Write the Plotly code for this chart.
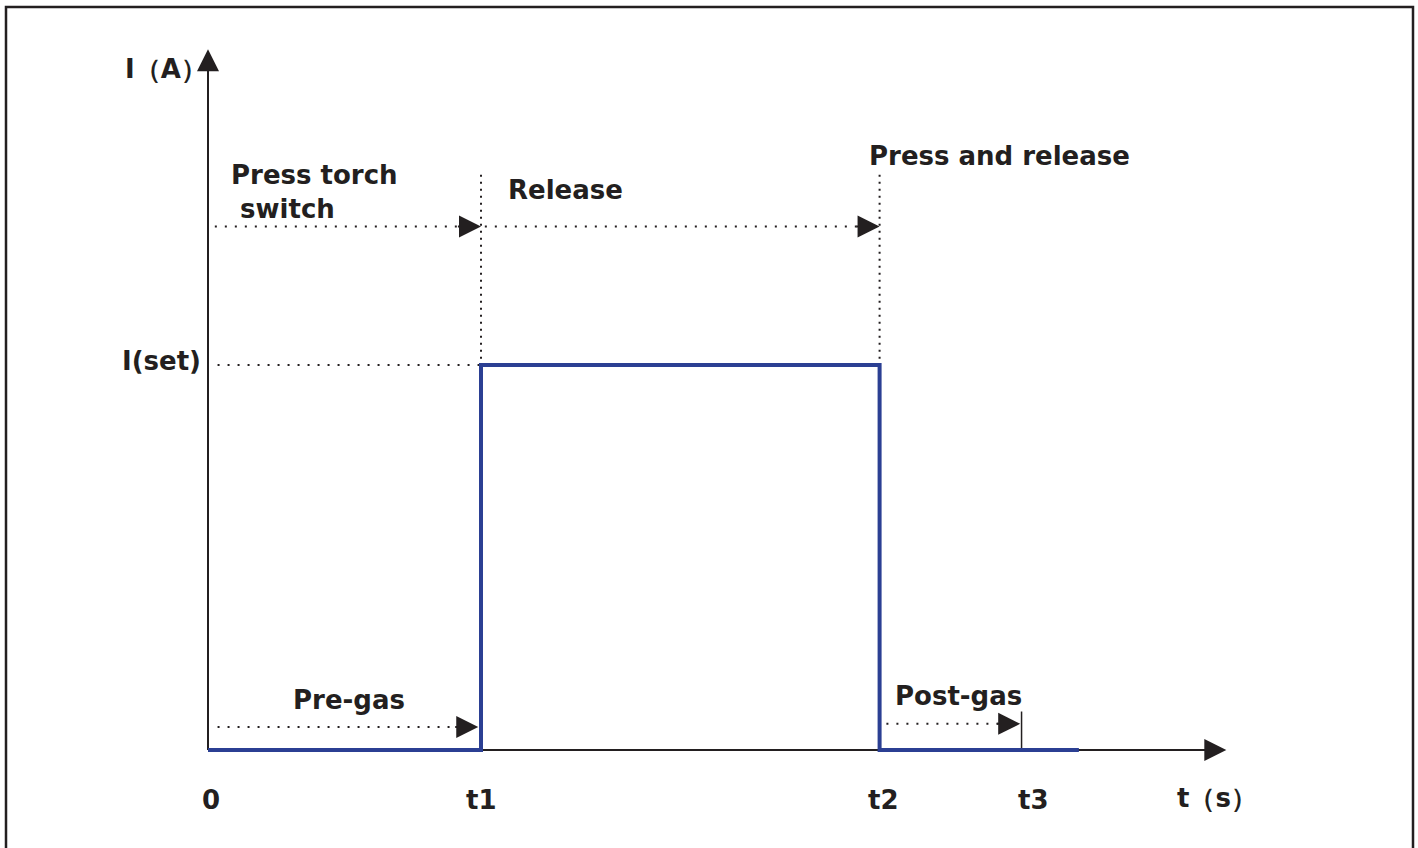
import plotly.graph_objects as go

# ---------------- data (time units / current units) ----------------
T_LABELS = ["0", "t1", "t2", "t3"]
T_VALUES = [0.0, 10.0, 24.6, 29.8]
T_END = 31.9            # end of the drawn current trace
AXIS_X_END = 37.3       # tip of the time axis arrow
AXIS_Y_END = 1.82       # tip of the current axis arrow
I_SET = 1.0
SWITCH_LEVEL = 1.36     # level of "torch switch" arrows
PRE_GAS_LEVEL = 0.06
POST_GAS_LEVEL = 0.068
T3_MARK_TOP = 0.10
PHASE_TOP = 1.494       # top of vertical dotted phase lines

current_t = [T_VALUES[0], T_VALUES[1], T_VALUES[1], T_VALUES[2], T_VALUES[2], T_END]
current_i = [0, 0, I_SET, I_SET, 0, 0]

DARK = "#231f20"
BLUE = "#2b3f93"
FONT = "DejaVu Sans"

fig = go.Figure()

# axes lines
fig.add_trace(go.Scatter(x=[0, 0], y=[0, AXIS_Y_END - 0.03], mode="lines",
                         line=dict(color=DARK, width=2), hoverinfo="skip"))
fig.add_trace(go.Scatter(x=[0, AXIS_X_END - 0.5], y=[0, 0], mode="lines",
                         line=dict(color=DARK, width=2), hoverinfo="skip"))

# dotted guide lines
dot_h = dict(color=DARK, width=2, dash="2px,8px")
dot_v = dict(color=DARK, width=2, dash="2px,5px")
fig.add_trace(go.Scatter(x=[0.25, T_VALUES[2]], y=[SWITCH_LEVEL, SWITCH_LEVEL], mode="lines", line=dot_h, hoverinfo="skip"))
fig.add_trace(go.Scatter(x=[0.35, T_VALUES[1]], y=[I_SET, I_SET], mode="lines", line=dot_h, hoverinfo="skip"))
fig.add_trace(go.Scatter(x=[T_VALUES[1], T_VALUES[1]], y=[PHASE_TOP, I_SET], mode="lines", line=dot_v, hoverinfo="skip"))
fig.add_trace(go.Scatter(x=[T_VALUES[2], T_VALUES[2]], y=[PHASE_TOP, I_SET], mode="lines", line=dot_v, hoverinfo="skip"))
fig.add_trace(go.Scatter(x=[0.35, T_VALUES[1] - 0.3], y=[PRE_GAS_LEVEL, PRE_GAS_LEVEL], mode="lines", line=dot_h, hoverinfo="skip"))
fig.add_trace(go.Scatter(x=[T_VALUES[2] + 0.25, T_VALUES[3] - 0.2], y=[POST_GAS_LEVEL, POST_GAS_LEVEL], mode="lines", line=dot_h, hoverinfo="skip"))

# t3 marker
fig.add_trace(go.Scatter(x=[T_VALUES[3], T_VALUES[3]], y=[0, T3_MARK_TOP], mode="lines",
                         line=dict(color=DARK, width=1.5), hoverinfo="skip"))

# welding current
fig.add_trace(go.Scatter(x=current_t, y=current_i, mode="lines",
                         line=dict(color=BLUE, width=4), hoverinfo="skip"))

annotations = []

def arrow(x, y, ax, ay):
    annotations.append(dict(x=x, y=y, ax=ax, ay=ay, xref="x", yref="y", axref="x", ayref="y",
                            showarrow=True, arrowhead=2, arrowsize=2.2, arrowwidth=2,
                            arrowcolor=DARK, text=""))

arrow(AXIS_X_END, 0, AXIS_X_END - 0.9, 0)
arrow(0, AXIS_Y_END, 0, AXIS_Y_END - 0.07)
arrow(T_VALUES[1], SWITCH_LEVEL, T_VALUES[1] - 0.9, SWITCH_LEVEL)
arrow(T_VALUES[2], SWITCH_LEVEL, T_VALUES[2] - 0.9, SWITCH_LEVEL)
arrow(T_VALUES[1] - 0.1, PRE_GAS_LEVEL, T_VALUES[1] - 1.0, PRE_GAS_LEVEL)
arrow(T_VALUES[3] - 0.05, POST_GAS_LEVEL, T_VALUES[3] - 0.95, POST_GAS_LEVEL)

def label(text, x, y, xanchor="center", xshift=0, align="center"):
    annotations.append(dict(x=x, y=y, xref="x", yref="y", text=text, showarrow=False,
                            xanchor=xanchor, yanchor="middle", xshift=xshift, align=align,
                            font=dict(family=FONT, size=26, color=DARK, weight="bold")))

# tick labels
tick_shift = [3, 0, 4, 12]
for lab, tv, sh in zip(T_LABELS, T_VALUES, tick_shift):
    label(lab, tv, -0.13, xshift=sh)

label("t（s）", 35.6, -0.125, xanchor="left", xshift=-5)
label("I（A）", -2.93, 1.768, xanchor="left", xshift=-5)
label("I(set)", -1.70, 1.01)
label("Press torch<br>\u00a0switch", 0.78, 1.45, xanchor="left", align="left")
label("Release", 13.1, 1.455)
label("Press and release", 29.0, 1.543)
label("Pre-gas", 5.17, 0.13)
label("Post-gas", 27.5, 0.14)

# outer frame
frame = dict(type="rect", xref="paper", yref="paper", x0=6 / 1418, x1=1413 / 1418,
             y0=-0.05, y1=1 - 7 / 848, line=dict(color=DARK, width=2.5))

fig.update_layout(
    width=1418, height=848,
    margin=dict(l=0, r=0, t=0, b=0),
    paper_bgcolor="white", plot_bgcolor="white",
    showlegend=False,
    xaxis=dict(visible=False, range=[-7.619, 44.322], fixedrange=True),
    yaxis=dict(visible=False, range=[-0.2545, 1.948], fixedrange=True),
    annotations=annotations,
    shapes=[frame],
)

fig.write_html("out.html", config={"displayModeBar": False},
               post_script="document.body.style.margin='0';document.body.style.overflow='hidden';")
